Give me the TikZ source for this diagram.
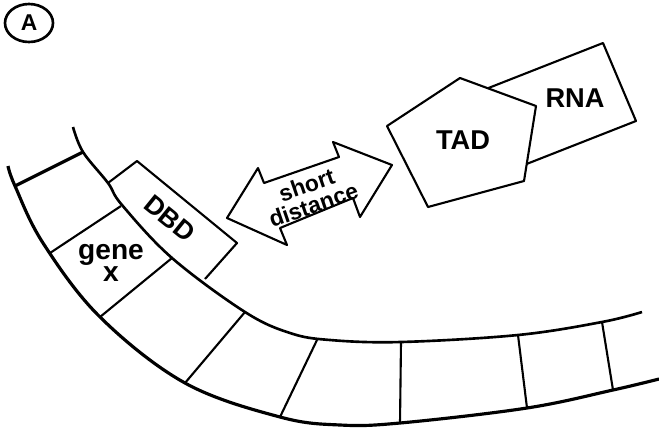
\documentclass[tikz,border=0pt]{standalone}
\usepackage{fontspec}
\setmainfont{Liberation Sans}
\usepackage{tikz}

\begin{document}
\begin{tikzpicture}[x=0.02cm, y=-0.02cm, line join=round,
  strand/.style={line width=1.8pt},
  rung/.style={line width=1.2pt},
  part/.style={draw, fill=white, line width=1.2pt},
  lbl/.style={font=\bfseries\fontsize{15.5}{13}\selectfont, inner sep=0pt, align=center},
  smalllbl/.style={font=\bfseries\fontsize{13}{12}\selectfont, inner sep=0pt, align=center}]
\useasboundingbox (0,0) rectangle (659,427);
% panel letter
\draw[line width=1.5pt] (29,23) ellipse [x radius=24, y radius=19];
\node[font=\bfseries\fontsize{13}{13}\selectfont] (panel) at (29,23) {A};
% rungs of the strand
\draw[line width=1.8pt] (15,186) -- (83,152);
\draw[rung] (50,253) -- (121,206); \draw[rung] (100,317) -- (172,258);
\draw[rung] (185,383) -- (245,312); \draw[rung] (280,417) -- (317,340);
\draw[rung] (400,423) -- (401,342); \draw[rung] (527,408) -- (518,335);
\draw[rung] (613,390) -- (602,322);
% strand edges
\draw[strand] plot[smooth, tension=0.6] coordinates {(8,166) (15,186) (43,243) (100,317) (185,383) (280,417) (340,425) (400,423) (527,408) (613,390) (659,379)};
\draw[line width=1.5pt] plot[smooth, tension=0.6] coordinates {(73,127) (83,152) (108,183) (122,205) (172,258) (245,312) (290,333) (330,340) (401,342) (518,335) (602,322) (642,312)};
% binding domain on the strand
\draw[line width=1.2pt] (108,183) -- (137,161) -- (237,243) -- (205,279);
\node[lbl, font=\bfseries\fontsize{15}{13}\selectfont, rotate=-39] (dbd) at (170,218) {DBD};
\node[lbl, font=\bfseries\fontsize{16}{11.5}\selectfont] (gene) at (111,263) {gene\\x};
% double arrow
\draw[part] (227,218) -- (258,168) -- (264,183) -- (339,157) -- (333,142) -- (392,165)
  -- (360,217) -- (353,198) -- (280,228) -- (287,245) -- cycle;
\node[smalllbl, rotate=19] (dist) at (310,195) {short\\distance};
% RNA tucked under the activation domain
\draw[part] (603,43) -- (636,121) -- (496,176) -- (463,98) -- cycle;
\node[lbl] (rna) at (575,98) {RNA};
\draw[part] (460,78) -- (536,106) -- (524,181) -- (428,207) -- (387,126) -- cycle;
\node[lbl] (tad) at (463,140) {TAD};
\end{tikzpicture}
\end{document}
